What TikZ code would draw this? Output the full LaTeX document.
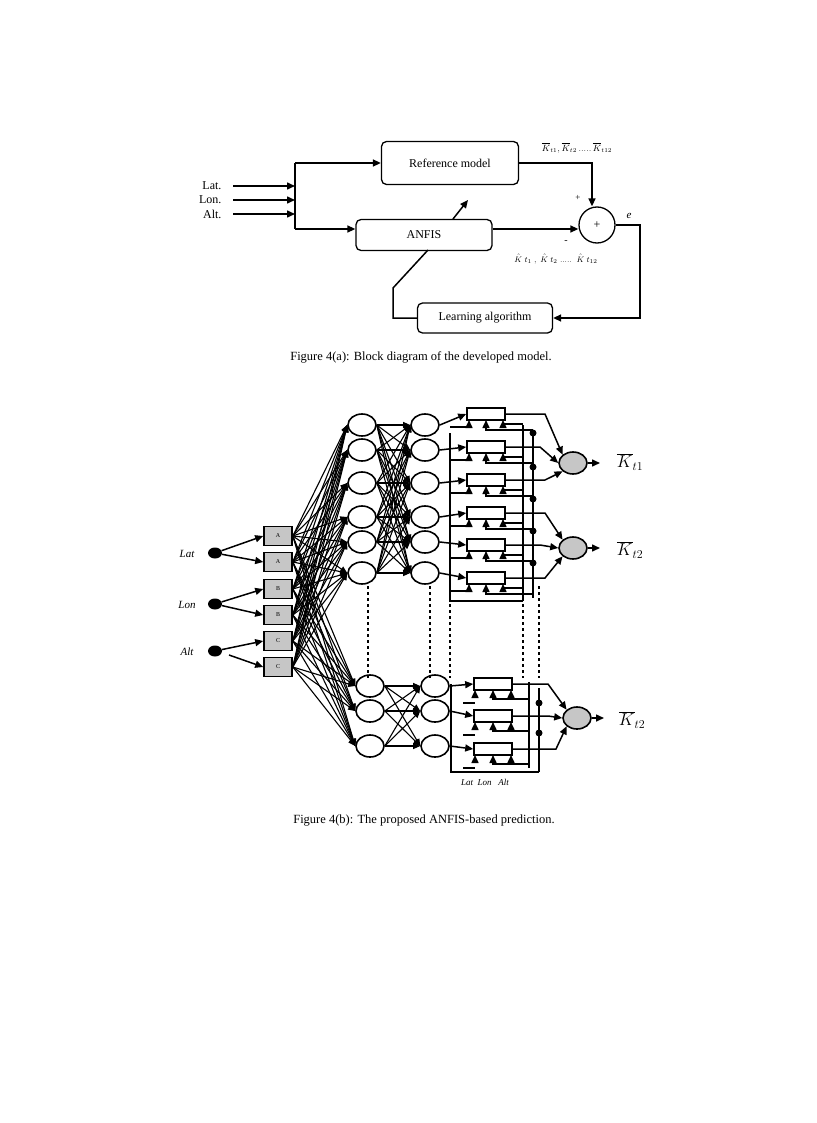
\documentclass[tikz,border=0pt]{standalone}
\usepackage{fontspec}
\setmainfont{Liberation Serif}
\usetikzlibrary{arrows.meta,calc,shapes.geometric}
\begin{document}
\begin{tikzpicture}[x=1pt,y=-1pt,
  blk/.style={draw,line width=1.3pt,rounded corners=5pt,minimum height=30pt,font=\fontsize{12}{14}\selectfont},
  arr/.style={-{Triangle[length=8pt,width=7pt]},line width=1.5pt},
  ln/.style={line width=1.5pt},
  thin arr/.style={-{Triangle[length=7pt,width=6pt]},line width=1.1pt},
  el/.style={draw,line width=1.6pt,ellipse,minimum width=28pt,minimum height=22pt,inner sep=0pt},
  gel/.style={el,fill=gray!45},
  mf/.style={draw,line width=1.6pt,fill=gray!45,minimum width=28pt,minimum height=19pt,inner sep=0pt,font=\fontsize{6}{6}\selectfont},
  rb/.style={draw,line width=1.6pt,minimum width=38pt,minimum height=12pt,inner sep=0pt},
  dot/.style={circle,fill,inner sep=0pt,minimum size=7pt},
  idot/.style={ellipse,fill,inner sep=0pt,minimum width=14pt,minimum height=11pt},
  lab/.style={font=\fontsize{11}{12}\selectfont\itshape},
  captext/.style={font=\fontsize{12.5}{14}\selectfont}]
\useasboundingbox (0,0) rectangle (816,1123);
% ---------- Figure 4(a)
\node[blk,minimum width=137pt,minimum height=43pt] (ref) at (450,163) {Reference model};
\node[blk,minimum width=136pt,minimum height=31pt] (anf) at (424,235) {ANFIS};
\node[blk,minimum width=135pt,minimum height=30pt] (learn) at (485,318) {Learning algorithm};
\node[draw,line width=1.3pt,circle,minimum size=36pt,inner sep=0pt,font=\fontsize{12}{12}\selectfont] (sum) at (597,225) {+};
\foreach \k/\t/\y in {a/Lat./186,b/Lon./200,c/Alt./214}{
  \node[font=\fontsize{12}{12}\selectfont,anchor=east] (in\k) at (225,\y) {\t};
  \coordinate (e\k) at (295,\y);
  \draw[arr] (233,\y) -- (e\k);}
\coordinate (jt) at (295,163); \coordinate (jb) at (295,229);
\draw[ln] (jt) -- (jb);
\draw[arr] (jt) -- (ref.west|-jt);
\draw[arr] (jb) -- (anf.west|-jb);
\draw[arr] (ref.east) -| (sum.north-|592,0);
\draw[arr] (anf.east|-0,229) -- (sum.west|-0,229);
\coordinate (ec) at (640,225);
\draw[arr] (sum.east) -- (ec) |- (learn.east);
\draw[ln] (learn.west) -- (393,318) -- (393,288) -- (428,250);
\draw[arr] (453,219) -- (468,200);
\node[font=\fontsize{9}{9}\selectfont] at (578,198) {+};
\node[font=\fontsize{10}{10}\selectfont] at (566,242) {-};
\node[font=\fontsize{11}{11}\selectfont\itshape] at (629,216) {e};
\node[font=\fontsize{9}{9}\selectfont\itshape] at (577,148) {$\overline{K}_{t1},\overline{K}_{t2}\,.....\,\overline{K}_{t12}$};
\node[font=\fontsize{8}{8}\selectfont\itshape] at (556,259) {$\hat{K}\;t_1\;,\;\hat{K}\;t_2\;.....\;\;\hat{K}\;t_{12}$};
\node[captext] at (421,357) {Figure 4(a): Block diagram of the developed model.};
% ---------- Figure 4(b)
\foreach \n/\y in {Lat/553,Lon/604,Alt/651}{
  \node[idot] (d\n) at (215,\y) {};
  \node[lab] at (187,\y+1) {\n};}
\foreach \i/\t/\y in {1/A/536,2/A/562,3/B/589,4/B/615,5/C/641,6/C/667}
  \node[mf] (m\i) at (278,\y) {\t};
\draw[arr] (dLat) -- (m1.west); \draw[arr] (dLat) -- (m2.west);
\draw[arr] (dLon) -- (m3.west); \draw[arr] (dLon) -- (m4.west);
\draw[arr] (dAlt) -- (m5.west); \draw[arr] (229,655) -- (m6.west);
% layer 2 and 3
\foreach \i/\y in {1/425,2/450,3/483,4/517,5/542,6/573}{
  \node[el] (p\i) at (362,\y) {};
  \node[el] (q\i) at (425,\y) {};}
\foreach \i/\y in {7/686,8/711,9/746}{
  \node[el] (p\i) at (370,\y) {};
  \node[el] (q\i) at (435,\y) {};}
\foreach \i in {1,...,6}{\foreach \j in {1,...,9}{
  \draw[thin arr] (m\i.east) -- (p\j.west);}}
\foreach \i in {1,...,6}{\foreach \j in {1,...,6}{
  \draw[thin arr] (p\i.east) -- (q\j.west);}}
\foreach \i in {7,8,9}{\foreach \j in {7,8,9}{
  \draw[thin arr] (p\i.east) -- (q\j.west);}}
% dashed continuation
\foreach \x in {368,430,450,523,539}{\draw[line width=1.2pt,dashed] (\x,586) -- (\x,678);}
% rule boxes top
\foreach \i/\y in {1/414,2/447,3/480,4/513,5/545,6/578}{
  \node[rb] (r\i) at (486,\y) {};
  \draw[arr] (q\i.east) -- (r\i.west);
  \foreach \dx in {-17,0,17}{\draw[arr] (486+\dx,\y+13) -- (486+\dx,\y+6);}
  \draw[ln] (450,\y+13) -- (469,\y+13);
  \draw[ln] (486,\y+13) -- (486,\y+16) -- (533,\y+16);
  \draw[ln] (503,\y+13) -- (503,\y+10) -- (523,\y+10);}
\draw[ln] (450,433) -- (450,601) -- (523,601);
\draw[ln] (523,425) -- (523,601);
\draw[ln] (533,430) -- (533,598);
\foreach \y in {433,467,499,531,563}{\node[dot] (dt\y) at (533,\y) {};}
\node[gel] (o1) at (573,463) {};
\node[gel] (o2) at (573,548) {};
\draw[arr] (r1.east) -- (545,414) -- (o1.north west);
\draw[arr] (r2.east) -- (540,447) -- (o1.west);
\draw[arr] (r3.east) -- (545,480) -- (o1.south west);
\draw[arr] (r4.east) -- (545,513) -- (o2.north west);
\draw[arr] (r5.east) -- (540,545) -- (o2.west);
\draw[arr] (r6.east) -- (545,578) -- (o2.south west);
\draw[arr] (o1.east) -- (600,463);
\draw[arr] (o2.east) -- (600,548);
\node[font=\fontsize{17}{17}\selectfont\itshape] at (630,462) {$\overline{K}_{t1}$};
\node[font=\fontsize{17}{17}\selectfont\itshape] at (630,550) {$\overline{K}_{t2}$};
% rule boxes bottom
\foreach \i/\y in {7/684,8/716,9/749}{
  \node[rb] (r\i) at (493,\y) {};
  \draw[arr] (q\i.east) -- (r\i.west);
  \foreach \dx in {-18,0,18}{\draw[arr] (493+\dx,\y+13) -- (493+\dx,\y+6);}
  \draw[ln] (463,\y+19) -- (475,\y+19);
  \draw[ln] (493,\y+13) -- (493,\y+15) -- (529,\y+15);}
\draw[ln] (451,684) -- (451,772) -- (539,772);
\draw[ln] (529,682) -- (529,768);
\draw[ln] (539,688) -- (539,772);
\node[dot] at (539,703) {}; \node[dot] at (539,733) {};
\node[gel] (o3) at (577,718) {};
\draw[arr] (r7.east) -- (548,684) -- (o3.north west);
\draw[arr] (r8.east) -- (548,716) -- (o3.west);
\draw[arr] (r9.east) -- (556,749) -- (o3.south west);
\draw[arr] (o3.east) -- (604,718);
\node[font=\fontsize{17}{17}\selectfont\itshape] at (632,720) {$\overline{K}_{t2}$};
\node[font=\fontsize{9}{9}\selectfont\itshape] at (485,782) {Lat\ \ Lon\ \ \ Alt};
\node[captext] at (424,821) {Figure 4(b): The proposed ANFIS-based prediction.};
\end{tikzpicture}
\end{document}
